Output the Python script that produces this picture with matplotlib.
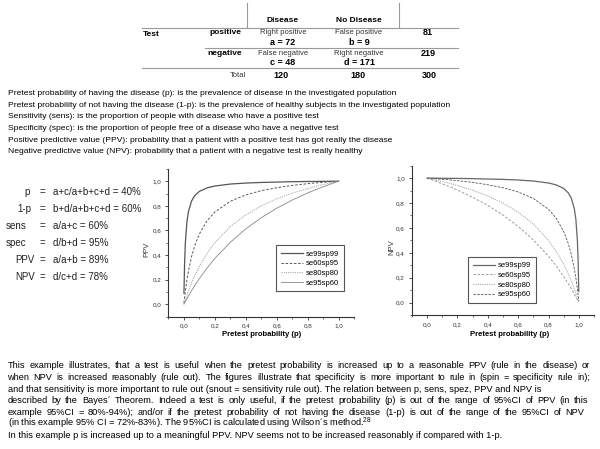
import matplotlib
matplotlib.use("Agg")
from matplotlib import pyplot as plt
from matplotlib.ticker import MultipleLocator

plt.rcParams["font.family"] = ["Liberation Sans", "DejaVu Sans"]
plt.rcParams["mathtext.fontset"] = "custom"
plt.rcParams["mathtext.rm"] = "Liberation Sans"

# pretest probability (x) and the curves
p = [0.001, 0.005, 0.01, 0.02, 0.03, 0.05, 0.07, 0.1, 0.15, 0.2, 0.3, 0.4, 0.5,
     0.6, 0.7, 0.8, 0.85, 0.9, 0.93, 0.95, 0.97, 0.98, 0.99, 0.995, 0.999]

ppv_se99sp99 = [0.090, 0.332, 0.500, 0.669, 0.754, 0.839, 0.882, 0.917, 0.946, 0.961, 0.977, 0.985, 0.990,
                0.993, 0.996, 0.998, 0.998, 0.999, 0.999, 1.000, 1.000, 1.000, 1.000, 1.000, 1.000]
ppv_se60sp95 = [0.012, 0.057, 0.108, 0.197, 0.271, 0.387, 0.475, 0.571, 0.679, 0.750, 0.837, 0.889, 0.923,
                0.947, 0.966, 0.980, 0.986, 0.991, 0.994, 0.996, 0.997, 0.998, 0.999, 1.000, 1.000]
ppv_se80sp80 = [0.004, 0.020, 0.039, 0.076, 0.110, 0.174, 0.231, 0.308, 0.414, 0.500, 0.632, 0.727, 0.800,
                0.857, 0.903, 0.941, 0.958, 0.973, 0.982, 0.987, 0.992, 0.995, 0.998, 0.999, 1.000]
ppv_se95sp60 = [0.002, 0.012, 0.023, 0.046, 0.068, 0.111, 0.152, 0.209, 0.295, 0.373, 0.504, 0.613, 0.704,
                0.781, 0.847, 0.905, 0.931, 0.955, 0.969, 0.978, 0.987, 0.992, 0.996, 0.998, 1.000]

npv_se99sp99 = [1.000, 1.000, 1.000, 1.000, 1.000, 1.000, 0.999, 0.999, 0.998, 0.998, 0.996, 0.993, 0.990,
                0.985, 0.977, 0.961, 0.946, 0.917, 0.882, 0.839, 0.754, 0.669, 0.500, 0.332, 0.090]
npv_se60sp95 = [1.000, 0.998, 0.996, 0.992, 0.987, 0.978, 0.969, 0.955, 0.931, 0.905, 0.847, 0.781, 0.704,
                0.613, 0.504, 0.373, 0.295, 0.209, 0.152, 0.111, 0.068, 0.046, 0.023, 0.012, 0.002]
npv_se80sp80 = [1.000, 0.999, 0.998, 0.995, 0.992, 0.987, 0.982, 0.973, 0.958, 0.941, 0.903, 0.857, 0.800,
                0.727, 0.632, 0.500, 0.414, 0.308, 0.231, 0.174, 0.110, 0.076, 0.039, 0.020, 0.004]
npv_se95sp60 = [1.000, 1.000, 0.999, 0.998, 0.997, 0.996, 0.994, 0.991, 0.986, 0.980, 0.966, 0.947, 0.923,
                0.889, 0.837, 0.750, 0.679, 0.571, 0.475, 0.387, 0.271, 0.197, 0.108, 0.057, 0.012]

series_names = ["se99sp99", "se60sp95", "se80sp80", "se95sp60"]
tick_vals = [0.0, 0.2, 0.4, 0.6, 0.8, 1.0]
tick_labels = ["0,0", "0,2", "0,4", "0,6", "0,8", "1,0"]

definitions = [
    "Pretest probability of having the disease (p): is the prevalence of disease in the investigated population",
    "Pretest probability of not having the disease (1-p): is the prevalence of healthy subjects in the investigated population",
    "Sensitivity (sens): is the proportion of people with disease who have a positive test",
    "Specificity (spec): is the proportion of people free of a disease who have a negative test",
    "Positive predictive value (PPV): probability that a patient with a positive test has got really the disease",
    "Negative predictive value (NPV): probability that a patient with a negative test is really healthy",
]
eq_names = ["p", "1-p", "sens", "spec", "PPV", "NPV"]
eq_exprs = ["a+c/a+b+c+d = 40%", "b+d/a+b+c+d = 60%", "a/a+c = 60%",
            "d/b+d = 95%", "a/a+b = 89%", "d/c+d = 78%"]
paragraph = [
    "This example illustrates, that a test is useful when the pretest probability is increased up to a reasonable PPV (rule in the disease) or",
    "when NPV is increased reasonably (rule out). The figures illustrate that specificity is more important to rule in (spin = specificity rule in);",
    "and that sensitivity is more important to rule out (snout = sensitivity rule out). The relation between p, sens, spez, PPV and NPV is",
    "described by the Bayes\u00b4 Theorem. Indeed a test is only useful, if the pretest probability (p) is out of the range of 95%CI of PPV (in this",
    "example 95%CI =  80%-94%); and/or if the pretest probability of not having the disease (1-p) is out of the range of the 95%CI of NPV",
    "(in this example 95% CI = 72%-83%). The 95%CI is calculated using Wilson\u00b4s method.$^{28}$",
    "In this example p is increased up to a meaningful PPV. NPV seems not to be increased reasonably if compared with 1-p.",
]
# right edge of the justified lines (None = ragged)
paragraph_ends = [590, 590, None, 588, 584, None, None]

W, H = 600, 449
fig = plt.figure(figsize=(6, 4.49), dpi=100)


def put(x, y, s, **kw):
    kw.setdefault("va", "center")
    return fig.text(x / W, 1 - y / H, s, **kw)


def put_justified(x0, x1, y, line, **kw):
    words = line.split()
    objs = [put(x0, y, w, **kw) for w in words]
    r = fig.canvas.get_renderer()
    widths = [o.get_window_extent(r).width for o in objs]
    gap = (x1 - x0 - sum(widths)) / (len(words) - 1)
    x = x0
    for o, w in zip(objs, widths):
        o.set_x(x / W)
        x += w + gap


# ---- 2x2 table ----
grid = "#9a9a9a"
for y, x0 in [(28.3, 141.7), (48.3, 205), (68.3, 141.7)]:
    fig.add_artist(plt.Line2D([x0 / W, 458 / W], [1 - y / H, 1 - y / H], color=grid, lw=0.8))
for x in [247.3, 399]:
    fig.add_artist(plt.Line2D([x / W, x / W], [1 - 3 / H, 1 - 28.3 / H], color=grid, lw=0.8))

put(283, 20.7, "Disease", ha="center", fontsize=6, fontweight="bold")
put(359, 20.7, "No Disease", ha="center", fontsize=6, fontweight="bold")
put(143, 34, "Test", fontsize=6, fontweight="bold")
put(209, 32.3, "positive", fontsize=6, fontweight="bold")
put(207, 53.3, "negative", fontsize=6, fontweight="bold")
put(283, 32.3, "Right positive", ha="center", fontsize=5.5, color="#333")
put(359, 32.3, "False positive", ha="center", fontsize=5.5, color="#333")
put(283, 42.3, "a = 72", ha="center", fontsize=6.5, fontweight="bold")
put(359, 42.3, "b = 9", ha="center", fontsize=6.5, fontweight="bold")
put(283, 53.3, "False negative", ha="center", fontsize=5.5, color="#333")
put(359, 53.3, "Right negative", ha="center", fontsize=5.5, color="#333")
put(283, 62.7, "c = 48", ha="center", fontsize=6.5, fontweight="bold")
put(359, 62.7, "d = 171", ha="center", fontsize=6.5, fontweight="bold")
put(428, 32.3, "81", ha="center", fontsize=6.5, fontweight="bold")
put(428, 53.3, "219", ha="center", fontsize=6.5, fontweight="bold")
put(238, 75.5, "Total", ha="center", fontsize=5.5, color="#333")
put(281, 75.5, "120", ha="center", fontsize=6.5, fontweight="bold")
put(358, 75.5, "180", ha="center", fontsize=6.5, fontweight="bold")
put(429, 75.5, "300", ha="center", fontsize=6.5, fontweight="bold")

# ---- definitions ----
for i, line in enumerate(definitions):
    put(7.5, 93.3 + 11.7 * i, line, fontsize=6.1)

# ---- equations ----
eq_x = [24, 17, 6, 6, 15, 15]
for i, (n, e) in enumerate(zip(eq_names, eq_exprs)):
    y = 191.7 + 17 * i
    put(eq_x[i], y, n, fontsize=7, color="#222")
    put(40, y, "=", fontsize=7, color="#222")
    put(53, y, e, fontsize=7, color="#222")


def style_axes(ax):
    ax.set_xlim(-0.1, 1.1)
    ax.set_ylim(-0.1, 1.1)
    for s in ["top", "right"]:
        ax.spines[s].set_visible(False)
    for s in ["left", "bottom"]:
        ax.spines[s].set_color("#333")
        ax.spines[s].set_linewidth(0.8)
    ax.set_xticks(tick_vals)
    ax.set_xticklabels(tick_labels)
    ax.set_yticks(tick_vals)
    ax.set_yticklabels(tick_labels)
    ax.xaxis.set_minor_locator(MultipleLocator(0.1))
    ax.yaxis.set_minor_locator(MultipleLocator(0.1))
    ax.tick_params(which="major", direction="out", length=2.5, width=0.6,
                   labelsize=4.5, labelcolor="#333", color="#333", pad=2.5)
    ax.tick_params(which="minor", direction="out", length=1.5, width=0.5, color="#333")
    ax.patch.set_alpha(0)


def add_legend(ax, cx, cy):
    leg = ax.legend(loc="center", bbox_to_anchor=(cx, cy), fontsize=5.5, frameon=True,
                    fancybox=False, edgecolor="#555", handlelength=2.8, borderpad=0.65,
                    labelspacing=0.3, handletextpad=0.4)
    leg.get_frame().set_linewidth(0.8)
    leg.get_frame().set_alpha(1)


# ---- PPV panel ----
ax1 = fig.add_axes([168.3 / W, 1 - 316.7 / H, 186 / W, 147.8 / H])
style_axes(ax1)
ax1.plot(p, ppv_se99sp99, color="#555", lw=0.9, ls="-", label=series_names[0])
ax1.plot(p, ppv_se60sp95, color="#555", lw=0.7, ls=(0, (2.5, 1.8)), label=series_names[1])
ax1.plot(p, ppv_se80sp80, color="#aaa", lw=0.8, ls=(0, (1, 1)), label=series_names[2])
ax1.plot(p, ppv_se95sp60, color="#888", lw=0.6, ls="-", label=series_names[3])
add_legend(ax1, 0.762, 0.327)
put(146.5, 249, "PPV", rotation=90, ha="center", fontsize=5.5, color="#333")
put(262, 334.3, "Pretest probability (p)", ha="center", fontsize=5.5, fontweight="bold")

# ---- NPV panel ----
ax2 = fig.add_axes([411.7 / W, 1 - 315 / H, 182.4 / W, 149.3 / H])
style_axes(ax2)
ax2.plot(p, npv_se99sp99, color="#666", lw=0.9, ls="-", label=series_names[0])
ax2.plot(p, npv_se60sp95, color="#999", lw=0.7, ls=(0, (2.5, 1.8)), label=series_names[1])
ax2.plot(p, npv_se80sp80, color="#aaa", lw=0.8, ls=(0, (1, 1)), label=series_names[2])
ax2.plot(p, npv_se95sp60, color="#555", lw=0.6, ls=(0, (3, 1.5)), label=series_names[3])
add_legend(ax2, 0.495, 0.234)
put(391.7, 246.7, "NPV", rotation=90, ha="center", fontsize=5.5, color="#333")
put(510, 335, "Pretest probability (p)", ha="center", fontsize=5.5, fontweight="bold")

# ---- closing paragraph (baseline-aligned so words keep one line) ----
for i, (line, end) in enumerate(zip(paragraph, paragraph_ends)):
    y = 365.1 + 11.6 * i + 3.2
    if end is None:
        put(7.5, y, line, fontsize=6.7, va="baseline")
    else:
        put_justified(7.5, end, y, line, fontsize=6.7, va="baseline")

fig.savefig("out.png", dpi=100)
